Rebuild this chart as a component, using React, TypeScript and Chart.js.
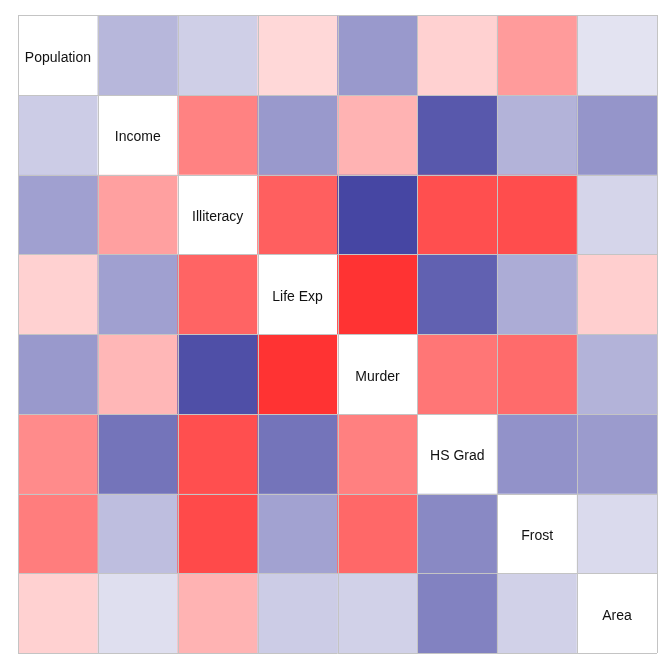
import React, { useEffect, useRef } from "react";
import { Chart, registerables } from "chart.js";

Chart.register(...registerables);

const variables = ["Population", "Income", "Illiteracy", "Life Exp", "Murder", "HS Grad", "Frost", "Area"];

// rows of the correlation matrix as drawn (upper and lower triangles differ)
const rowPopulation = [1.0, 0.21, 0.11, -0.07, 0.34, -0.1, -0.33, 0.02];
const rowIncome = [0.12, 1.0, -0.44, 0.34, -0.23, 0.62, 0.23, 0.36];
const rowIlliteracy = [0.31, -0.31, 1.0, -0.59, 0.7, -0.66, -0.67, 0.08];
const rowLifeExp = [-0.1, 0.31, -0.57, 1.0, -0.78, 0.58, 0.26, -0.11];
const rowMurder = [0.34, -0.21, 0.66, -0.78, 1.0, -0.49, -0.54, 0.23];
const rowHSGrad = [-0.4, 0.5, -0.66, 0.5, -0.45, 1.0, 0.37, 0.33];
const rowFrost = [-0.46, 0.18, -0.68, 0.3, -0.55, 0.41, 1.0, 0.06];
const rowArea = [-0.1, 0.04, -0.23, 0.12, 0.1, 0.44, 0.1, 1.0];

const matrix = [rowPopulation, rowIncome, rowIlliteracy, rowLifeExp, rowMurder, rowHSGrad, rowFrost, rowArea];

function cellColor(r: number, diag: boolean): string {
  if (diag) return "#ffffff";
  const a = Math.min(1, 0.09 + 0.91 * Math.abs(r));
  const base = r >= 0 ? [0, 0, 128] : [255, 0, 0];
  const c = base.map((v) => Math.round(255 * (1 - a) + v * a));
  return `rgb(${c[0]},${c[1]},${c[2]})`;
}

const gridAndLabels = {
  id: "gridAndLabels",
  afterDatasetsDraw(chart: any) {
    const { ctx, scales, chartArea } = chart;
    const xs = scales.x;
    const ys = scales.y;
    const half = (xs.getPixelForValue(1) - xs.getPixelForValue(0)) / 2;
    ctx.save();
    ctx.strokeStyle = "#c4c4c4";
    ctx.lineWidth = 1;
    ctx.beginPath();
    for (let j = 0; j <= variables.length; j++) {
      const x = Math.round(xs.getPixelForValue(0) - half + j * 2 * half) + 0.5;
      ctx.moveTo(x, chartArea.top);
      ctx.lineTo(x, chartArea.bottom);
    }
    for (let k = 0; k <= variables.length; k++) {
      const y = Math.round(ys.getPixelForValue(k)) + 0.5;
      ctx.moveTo(chartArea.left, y);
      ctx.lineTo(chartArea.right, y);
    }
    ctx.stroke();
    ctx.font = '14px "Liberation Sans", Arial, sans-serif';
    ctx.fillStyle = "#111111";
    ctx.textAlign = "center";
    ctx.textBaseline = "middle";
    variables.forEach((v, i) => {
      const x = xs.getPixelForValue(i);
      const y = ys.getPixelForValue(i + 0.5);
      ctx.fillText(v, x, y + 3);
    });
    ctx.restore();
  },
};

export default function App() {
  const ref = useRef<HTMLCanvasElement | null>(null);
  useEffect(() => {
    if (!ref.current) return;
    const datasets = matrix.map((row, i) => ({
      label: variables[i],
      data: row.map(() => [i, i + 1]) as any,
      backgroundColor: row.map((r, j) => cellColor(r, i === j)),
      borderWidth: 0,
      categoryPercentage: 1,
      barPercentage: 1,
      grouped: false,
    }));
    const chart = new Chart(ref.current, {
      type: "bar",
      data: { labels: variables, datasets },
      plugins: [gridAndLabels],
      options: {
        animation: false,
        responsive: false,
        maintainAspectRatio: false,
        layout: { padding: { left: 10, right: 7, top: 7, bottom: 11 } },
        plugins: { legend: { display: false }, tooltip: { enabled: false } },
        scales: {
          x: { type: "category", offset: true, display: false },
          y: { type: "linear", min: 0, max: 8, reverse: true, display: false },
        },
      },
    });
    return () => chart.destroy();
  }, []);
  return <canvas ref={ref} width={656} height={656} style={{ display: "block" }} />;
}
